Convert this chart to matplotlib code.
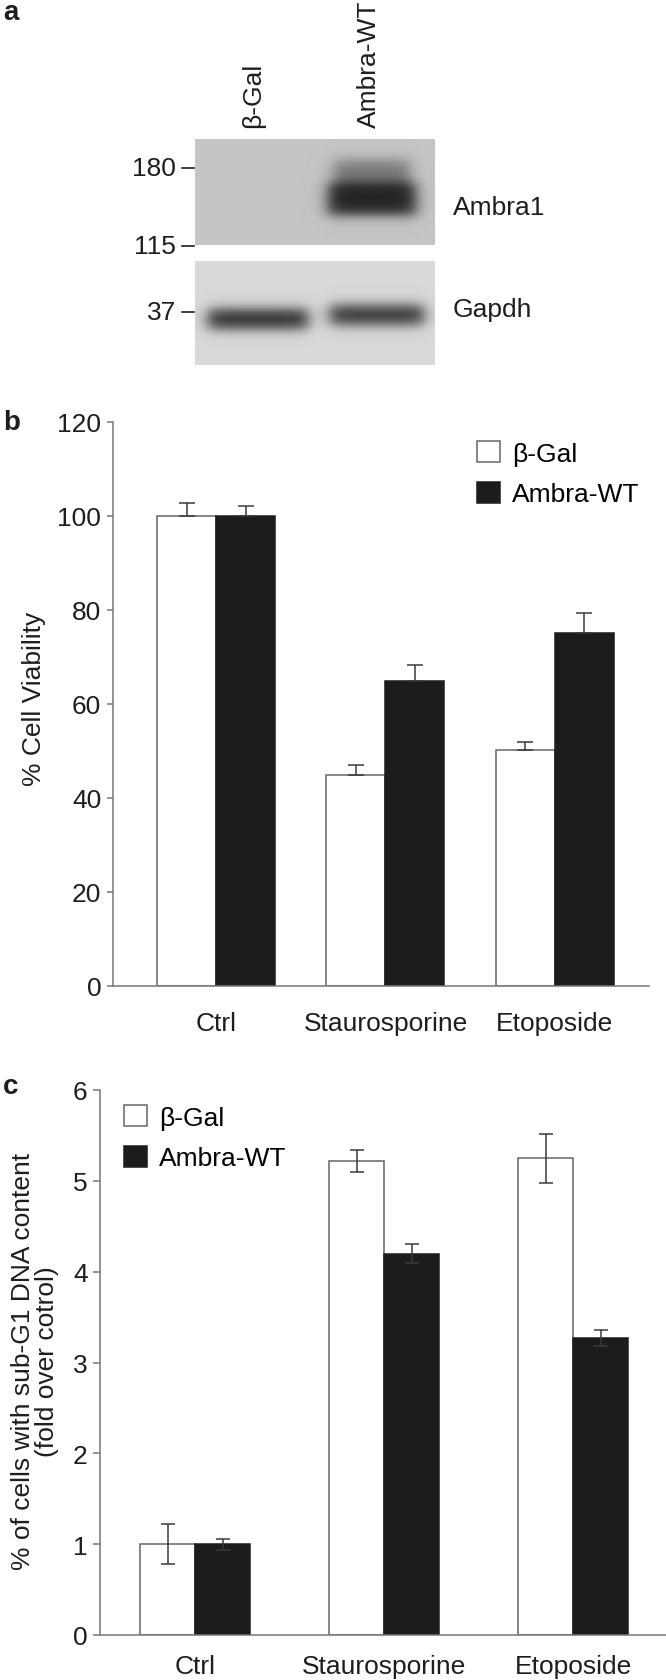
import numpy as np
import matplotlib
matplotlib.use("Agg")
import matplotlib.pyplot as plt

plt.rcParams['font.family'] = ['Liberation Sans', 'DejaVu Sans']

W, H = 666, 1681
DPI = 100
FS = 19
TXT = '#1e1e1e'
AXC = '#777777'
BLACK = '#1c1c1c'

# panel a: western blot
lanes = ['β-Gal', 'Ambra-WT']
markers_kda = ['180', '115', '37']
blot_rows = ['Ambra1', 'Gapdh']
ambra1_signal = [0.0, 1.0]
gapdh_signal = [0.9, 0.85]

# panels b and c
treatments = ['Ctrl', 'Staurosporine', 'Etoposide']
series = ['β-Gal', 'Ambra-WT']

viab_bgal = [100, 45, 50.3]
viab_bgal_err = [2.8, 2.0, 1.6]
viab_ambra = [100, 65, 75.2]
viab_ambra_err = [2.1, 3.2, 4.2]

subg1_bgal = [1.0, 5.22, 5.25]
subg1_bgal_err = [0.22, 0.12, 0.27]
subg1_ambra = [1.0, 4.2, 3.27]
subg1_ambra_err = [0.06, 0.1, 0.09]


def px_axes(fig, x0, y0, x1, y1):
    """axes from pixel box (top-left origin)"""
    return fig.add_axes([x0 / W, 1 - y1 / H, (x1 - x0) / W, (y1 - y0) / H])


def soft(d, half, edge):
    return 1.0 / (1.0 + np.exp((np.abs(d) - half) / edge))


def blot(bg, bands, x0, x1, y0, y1):
    """grey blot image, bands = (signal, xc, yc, half_w, half_h)"""
    xs = np.arange(x0, x1) + 0.5
    ys = np.arange(y0, y1) + 0.5
    X, Y = np.meshgrid(xs, ys)
    img = np.full(X.shape, bg)
    for sig, xc, yc, hw, hh in bands:
        dark = sig * soft(X - xc, hw, 4.5) * soft(Y - yc, hh, 3.5)
        img = img - (bg - 0.14) * np.clip(dark, 0, 1)
    return img


fig = plt.figure(figsize=(W / DPI, H / DPI), dpi=DPI)
ax0 = fig.add_axes([0, 0, 1, 1])
ax0.patch.set_visible(False)

# ---- panel a ----
top = blot(0.77, [(0.45 * ambra1_signal[1], 372, 173, 38, 12),
                  (ambra1_signal[1], 372, 200, 44, 16)], 195, 435, 140, 246)
low = blot(0.85, [(gapdh_signal[0], 258, 320, 50, 10),
                  (gapdh_signal[1], 377, 316, 47, 10)], 195, 435, 262, 366)
ax0.imshow(top, cmap='gray', vmin=0, vmax=1, extent=[195, 435, 246, 140], aspect='auto')
ax0.imshow(low, cmap='gray', vmin=0, vmax=1, extent=[195, 435, 366, 262], aspect='auto')
ax0.set_xlim(0, W)
ax0.set_ylim(H, 0)
ax0.axis('off')

for lab, xc in zip(lanes, [253, 369]):
    ax0.text(xc, 128, lab, rotation=90, ha='center', va='bottom', fontsize=FS, color=TXT)
for lab, yc in zip(markers_kda, [169, 247, 313]):
    ax0.plot([182, 194], [yc, yc], color=TXT, lw=1.2)
    ax0.text(176, yc, lab, ha='right', va='center', fontsize=FS, color=TXT)
for lab, yc in zip(blot_rows, [208, 310]):
    ax0.text(453, yc, lab, ha='left', va='center', fontsize=FS, color=TXT)

for lab, yc in zip(['a', 'b', 'c'], [13, 423, 1087]):
    ax0.text(3, yc, lab, ha='left', va='center', fontsize=FS + 1, fontweight='bold', color=TXT)


def bar_panel(ax, w_vals, w_err, k_vals, k_err, width, one_sided, capsize):
    x = np.arange(len(treatments))
    bw = ax.bar(x - width / 2, w_vals, width, color='white', edgecolor='#666666',
                linewidth=1.1, label=series[0], zorder=2)
    bk = ax.bar(x + width / 2, k_vals, width, color=BLACK, edgecolor=BLACK,
                linewidth=1.1, label=series[1], zorder=2)
    for xs, v, e in [(x - width / 2, w_vals, w_err), (x + width / 2, k_vals, k_err)]:
        e = np.array(e)
        yerr = [np.zeros_like(e), e] if one_sided else e
        ax.errorbar(xs, v, yerr=yerr, fmt='none', ecolor='#3a3a3a', elinewidth=1.1,
                    capsize=capsize, capthick=1.1, zorder=3)
    for s in ['top', 'right']:
        ax.spines[s].set_visible(False)
    for s in ['left', 'bottom']:
        ax.spines[s].set_color(AXC)
        ax.spines[s].set_linewidth(1.1)
    ax.set_xticks(x)
    ax.set_xticklabels(treatments)
    ax.tick_params(axis='x', length=0, labelsize=FS, labelcolor=TXT)
    ax.tick_params(axis='y', length=4.5, width=1.1, color=AXC, pad=4,
                   labelsize=FS, labelcolor=TXT)
    return bw, bk


# ---- panel b ----
axb = px_axes(fig, 113, 423, 649, 987)
hb = bar_panel(axb, viab_bgal, viab_bgal_err, viab_ambra, viab_ambra_err, 0.349, True, 5.8)
axb.set_ylim(0, 120)
axb.set_yticks(range(0, 121, 20))
axb.set_xlim(-0.612, 2.559)
axb.tick_params(axis='x', pad=18)
axb.set_ylabel('% Cell Viability', fontsize=FS, color=TXT, va='center')
axb.yaxis.set_label_coords((34 - 113) / 536, 0.51)
axb.legend(handles=hb, loc='upper left', bbox_to_anchor=(477 / W, 1 - 442 / H),
           bbox_transform=fig.transFigure, frameon=False, fontsize=FS, borderpad=0,
           borderaxespad=0, handlelength=0.87, handleheight=0.87,
           handletextpad=0.45, labelspacing=0.6)

# ---- panel c ----
axc = px_axes(fig, 100, 1091, 666, 1636)
hc = bar_panel(axc, subg1_bgal, subg1_bgal_err, subg1_ambra, subg1_ambra_err, 0.291, False, 4.7)
axc.set_ylim(0, 6)
axc.set_yticks(range(0, 7))
axc.set_xlim(-0.503, 2.492)
axc.tick_params(axis='x', pad=14)
axc.tick_params(axis='y', length=5)
axc.set_ylabel('% of cells with sub-G1 DNA content\n(fold over cotrol)', fontsize=FS,
               color=TXT, linespacing=1.05, va='center', ma='center')
axc.yaxis.set_label_coords((35 - 100) / 566, 0.503)
axc.legend(handles=hc, loc='upper left', bbox_to_anchor=(124 / W, 1 - 1106 / H),
           bbox_transform=fig.transFigure, frameon=False, fontsize=FS, borderpad=0,
           borderaxespad=0, handlelength=0.87, handleheight=0.87,
           handletextpad=0.45, labelspacing=0.6)

fig.savefig('out.png', dpi=DPI)
